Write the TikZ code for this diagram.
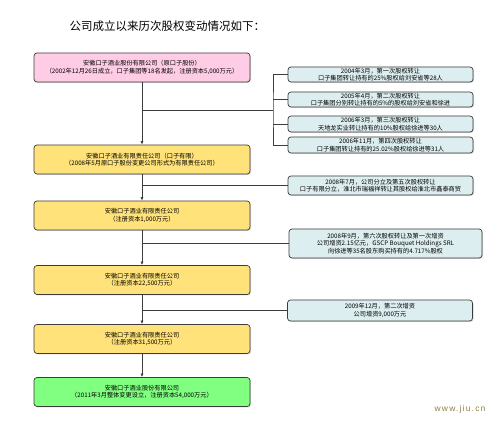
\documentclass[tikz,border=0pt]{standalone}
\usepackage{fontspec}
\newfontfamily\cjk{Noto Sans CJK SC}
\newfontfamily\wmfont[LetterSpace=14]{Liberation Sans}
\usetikzlibrary{arrows.meta, positioning, shadows}

\definecolor{pinkbox}{RGB}{255,204,229}
\definecolor{yellowbox}{RGB}{255,226,122}
\definecolor{greenbox}{RGB}{128,255,128}
\definecolor{sidebox}{RGB}{221,238,240}
\definecolor{edgegray}{RGB}{60,60,60}
\definecolor{watermark}{RGB}{150,128,60}

\begin{document}
\begin{tikzpicture}[
    x=1pt, y=-1pt,
    >={Latex[length=3.5pt,width=3pt]},
    stage/.style={draw=edgegray, rounded corners=3pt, line width=0.7pt,
                  align=center, minimum width=216pt, minimum height=29pt,
                  inner sep=1pt, font=\cjk\fontsize{6.2}{7.6}\selectfont,
                  drop shadow={shadow xshift=1pt, shadow yshift=-1pt,
                               fill=black!30}},
    event/.style={draw=edgegray, rounded corners=3pt, line width=0.7pt,
                  align=center, minimum width=185pt, minimum height=15pt,
                  inner sep=0.5pt, fill=sidebox,
                  font=\cjk\fontsize{6.2}{7.4}\selectfont,
                  drop shadow={shadow xshift=1pt, shadow yshift=-1pt,
                               fill=black!30}},
    link/.style={draw=edgegray, line width=0.7pt},
    flow/.style={->, link},
]
\fill[white] (0,0) rectangle (498,435);
\useasboundingbox (0,0) rectangle (498,435);
% title
\node[font=\cjk\fontsize{11.5}{13}\selectfont, anchor=west] (title) at (66,26)
   {公司成立以来历次股权变动情况如下：};
% main stages
\node[stage, fill=pinkbox] (s1) at (142,67.5)
   {安徽口子酒业股份有限公司（原口子股份）\\（2002年12月26日成立，口子集团等18名发起，注册资本5,000万元）};
\node[stage, fill=yellowbox] (s2) at (142,159.5)
   {安徽口子酒业有限责任公司（口子有限）\\（2008年5月原口子股份变更公司形式为有限责任公司）};
\node[stage, fill=yellowbox] (s3) at (142,215.5)
   {安徽口子酒业有限责任公司\\（注册资本1,000万元）};
\node[stage, fill=yellowbox] (s4) at (142,280)
   {安徽口子酒业有限责任公司\\（注册资本22,500万元）};
\node[stage, fill=yellowbox] (s5) at (142,339)
   {安徽口子酒业有限责任公司\\（注册资本31,500万元）};
\node[stage, fill=greenbox] (s6) at (142,392)
   {安徽口子酒业股份有限公司\\（2011年3月整体变更设立，注册资本54,000万元）};
% equity changes
\node[event] (e1) at (380.5,74.5)
   {2004年3月，第一次股权转让\\口子集团转让持有的25\%股权给刘安省等28人};
\node[event] (e2) at (380.5,99.5)
   {2005年4月，第二次股权转让\\口子集团分别转让持有的5\%的股权给刘安省和徐进};
\node[event, minimum height=16pt] (e3) at (380.5,124)
   {2006年3月，第三次股权转让\\天地龙实业转让持有的10\%股权给徐进等30人};
\node[event, minimum height=16pt] (e4) at (380.5,145)
   {2006年11月，第四次股权转让\\口子集团转让持有的25.02\%股权给徐进等31人};
\node[event, minimum height=19pt] (e5) at (380.5,185.5)
   {2008年7月，公司分立及第五次股权转让\\口子有限分立，淮北市瑞福祥转让其股权给淮北市鑫泰商贸};
\node[event, minimum width=193pt, minimum height=29pt] (e6) at (385.5,243.5)
   {2008年9月，第六次股权转让及第一次增资\\公司增资2.15亿元，GSCP Bouquet Holdings SRL\\向徐进等35名股东购买持有的4.717\%股权};
\node[event, minimum height=21pt] (e7) at (380,310.5)
   {2009年12月，第二次增资\\公司增资9,000万元};
% main line
\draw[flow] (s1) -- (s2);
\draw[flow] (s2) -- (s3);
\draw[flow] (s3) -- (s4);
\draw[flow] (s4) -- (s5);
\draw[flow] (s5) -- (s6);
% bracket for the first four transfers
\coordinate (b1) at (273,110);
\draw[link] (s1.south |- b1) -- (b1);
\draw[link] (e1.west) -| (b1) |- (e4.west);
\draw[link] (e2.west) -- (e2.west -| b1);
\draw[link] (e3.west) -- (e3.west -| b1);
% single branches
\draw[link] (e5.west) -- (e5.west -| s2.south);
\draw[link] (e6.west) -- (e6.west -| s3.south);
\draw[link] (e7.west) -- (e7.west -| s4.south);
% watermark
\node[font=\wmfont\fontsize{8.5}{10}\selectfont, text=watermark, anchor=east]
   (mark) at (489,409) {www.jiu.cn};
\end{tikzpicture}
\end{document}
